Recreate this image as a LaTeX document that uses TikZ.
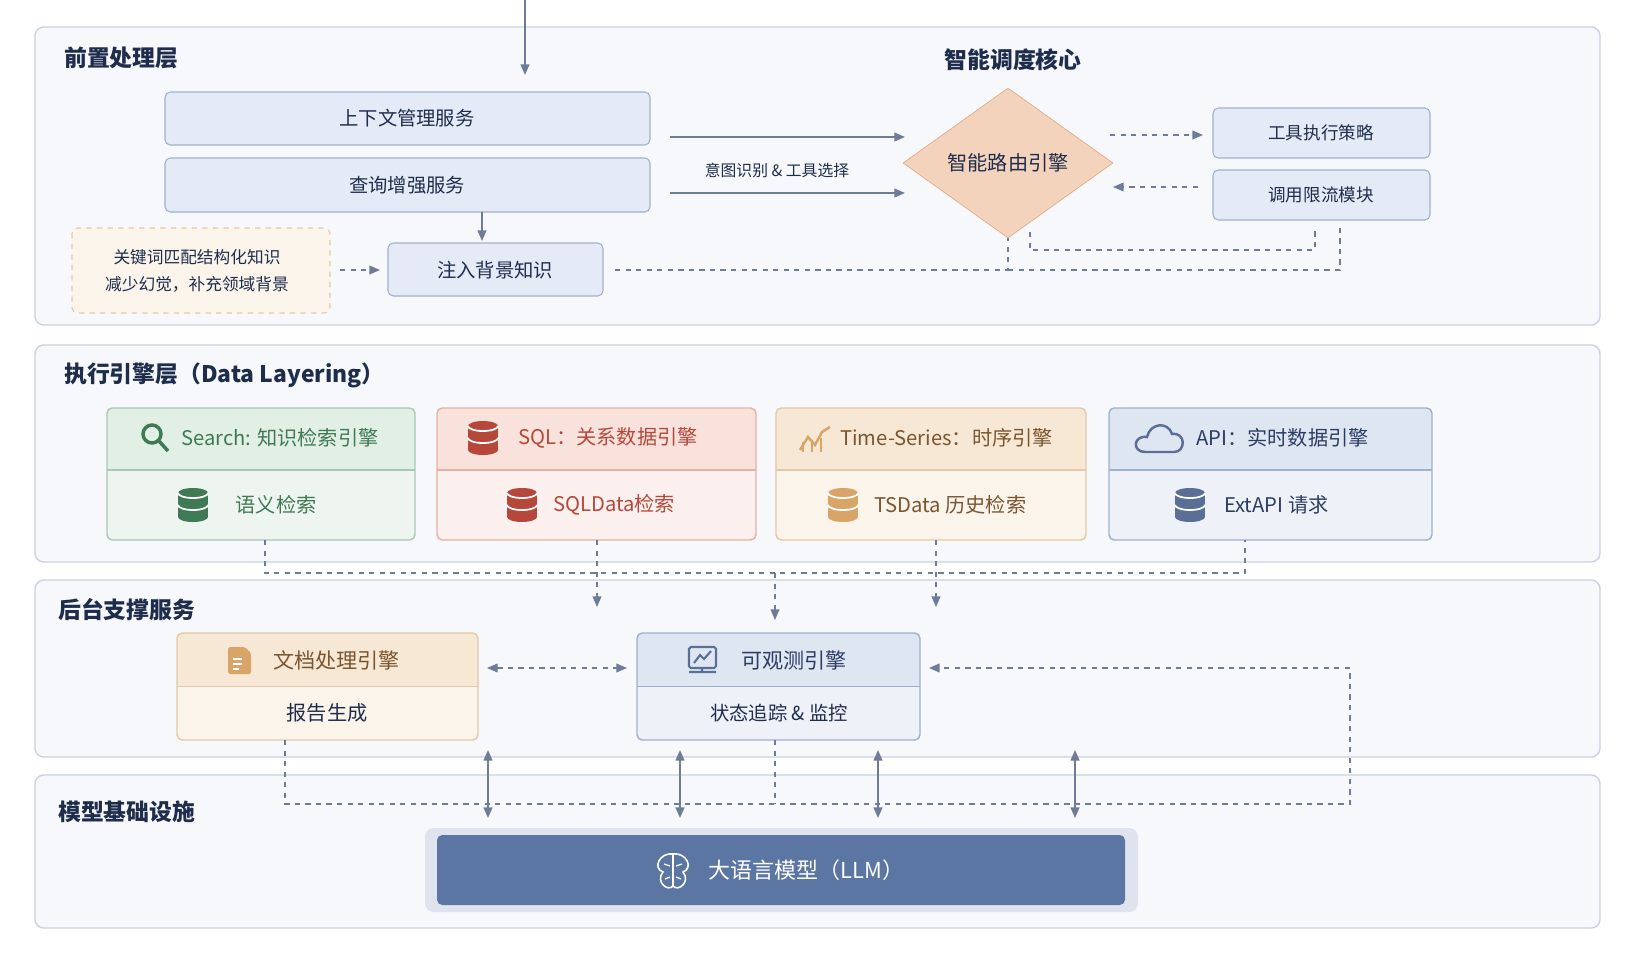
\documentclass[tikz,border=0pt]{standalone}
\usepackage{fontspec}
\setmainfont{Noto Sans CJK SC}
\usetikzlibrary{arrows.meta,positioning,shapes.geometric}
\definecolor{navy}{HTML}{1F2D4D}
\definecolor{line}{HTML}{6E7C97}
\definecolor{panel}{HTML}{F7F8FC}
\definecolor{pline}{HTML}{C9D1E2}
\definecolor{bfill}{HTML}{E4EBF6}
\definecolor{bline}{HTML}{9FB0CC}
\definecolor{gtxt}{HTML}{3F7A55}\definecolor{ghead}{HTML}{E2EFE5}\definecolor{gbody}{HTML}{EEF5F0}\definecolor{gline}{HTML}{A9C8B2}
\definecolor{rtxt}{HTML}{B5483A}\definecolor{rhead}{HTML}{F9E1DC}\definecolor{rbody}{HTML}{FBF0ED}\definecolor{rline}{HTML}{E5B0A5}
\definecolor{otxt}{HTML}{7A5530}\definecolor{ohead}{HTML}{F6E8D4}\definecolor{obody}{HTML}{FBF4EA}\definecolor{oline}{HTML}{E3C9A5}\definecolor{oicon}{HTML}{D8A468}
\definecolor{utxt}{HTML}{2C3D63}\definecolor{uhead}{HTML}{DEE6F2}\definecolor{ubody}{HTML}{EEF2F8}\definecolor{uicon}{HTML}{5A6F96}
\definecolor{llm}{HTML}{5B76A2}
\definecolor{dfill}{HTML}{F4D3BC}\definecolor{dline}{HTML}{E2AB88}
\tikzset{
  panel/.style={draw=pline, fill=panel, rounded corners=5pt, line width=0.8pt},
  ptitle/.style={anchor=west, text=navy, font=\bfseries\fontsize{13}{15}\selectfont},
  box/.style={draw=bline, fill=bfill, rounded corners=3pt, line width=0.6pt},
  btxt/.style={text=navy, font=\fontsize{11}{13}\selectfont},
  dline/.style={draw=line, dashed, line width=0.6pt},
  arr/.style={-{Triangle[length=6pt,width=5pt]}, draw=line, line width=0.7pt},
  darr/.style={{Triangle[length=6pt,width=5pt]}-{Triangle[length=6pt,width=5pt]}, draw=line, line width=0.9pt},
  db/.pic={\fill[pic actions] (-15,-12) rectangle (15,12);
    \fill[pic actions] (0,-12) ellipse (15 and 5);
    \fill[pic actions] (0,12) ellipse (15 and 5);
    \draw[white, line width=1pt] (-15,-12) arc (180:360:15 and -5);
    \draw[white, line width=1pt] (-15,0) arc (180:360:15 and -5);}
}
\begin{document}
\begin{tikzpicture}[x=0.02cm,y=-0.02cm]
\useasboundingbox (0,0) rectangle (1637,960);
\fill[white] (0,0) rectangle (1637,960);
% panels
\draw[panel] (35,27) rectangle (1600,325);
\draw[panel] (35,345) rectangle (1600,562);
\draw[panel] (35,580) rectangle (1600,757);
\draw[panel] (35,775) rectangle (1600,928);
\node[ptitle] (t1) at (58,58) {前置处理层};
\node[ptitle] (t2) at (58,375) {执行引擎层（Data Layering）};
\node[ptitle] (t3) at (52,610) {后台支撑服务};
\node[ptitle] (t4) at (52,812) {模型基础设施};
\node[text=navy, font=\bfseries\fontsize{13}{15}\selectfont] (core) at (1013,60) {智能调度核心};
% pre-processing
\coordinate (in) at (525,0);
\draw[box] (165,92) rectangle (650,145);
\node[btxt] (ctx) at (407,118) {上下文管理服务};
\draw[box] (165,158) rectangle (650,212);
\node[btxt] (qry) at (407,185) {查询增强服务};
\draw[arr] (in) -- (525,75);
\draw[dline, draw=oline, fill=obody, rounded corners=3pt] (72,228) rectangle (330,313);
\node[btxt, align=center, font=\fontsize{9.5}{15}\selectfont] (kw) at (197,271) {关键词匹配结构化知识\\减少幻觉，补充领域背景};
\draw[box] (388,243) rectangle (603,296);
\node[btxt] (inj) at (495,270) {注入背景知识};
\draw[arr] (482,212) -- (482,241);
\draw[arr, dashed] (340,270) -- (380,270);
\node[diamond, draw=dline, fill=dfill, minimum width=210*0.02cm, minimum height=150*0.02cm, inner sep=0pt, text=navy, font=\fontsize{11.5}{13}\selectfont] (route) at (1008,163) {智能路由引擎};
\draw[arr] (670,137) -- (905,137);
\draw[arr] (670,193) -- (905,193);
\node[text=navy, font=\fontsize{9}{11}\selectfont] (intent) at (777,170) {意图识别 \& 工具选择};
\draw[box] (1213,108) rectangle (1430,158);
\node[btxt, font=\fontsize{10}{12}\selectfont] (tool) at (1321,133) {工具执行策略};
\draw[box] (1213,170) rectangle (1430,220);
\node[btxt, font=\fontsize{10}{12}\selectfont] (lim) at (1321,195) {调用限流模块};
\draw[arr, dashed] (1110,135) -- (1203,135);
\draw[arr, dashed] (1198,187) -- (1113,187);
\draw[dline] (615,270) -- (1008,270) -- (1008,238);
\draw[dline] (1008,270) -- (1340,270) -- (1340,228);
\draw[dline] (1030,232) -- (1030,250) -- (1315,250) -- (1315,228);
% engine cards
\foreach \xa/\xb/\c in {107/415/g, 437/756/r, 776/1086/o, 1109/1432/u}{
  \fill[\c body, rounded corners=3pt] (\xa,408) rectangle (\xb,540);
  \fill[\c head, rounded corners=3pt] (\xa,408) rectangle (\xb,470);
  \fill[\c head] (\xa,455) rectangle (\xb,470);
}
\foreach \xa/\xb/\c in {107/415/gline, 437/756/rline, 776/1086/oline, 1109/1432/bline}{
  \draw[\c, line width=0.6pt] (\xa,470) -- (\xb,470);
  \draw[\c, rounded corners=3pt, line width=0.8pt] (\xa,408) rectangle (\xb,540);
}
\draw[gtxt, line width=2pt] (152,434) circle (9) (159,441) -- (168,451);
\node[text=gtxt, anchor=west, font=\fontsize{11.5}{13}\selectfont] (srch) at (175,438) {Search: 知识检索引擎};
\node[text=gtxt, font=\fontsize{11.5}{13}\selectfont] (sem) at (276,505) {语义检索};
\pic[fill=gtxt] at (193,505) {db};
\pic[fill=rtxt] at (483,438) {db};
\node[text=rtxt, anchor=west, font=\fontsize{11.5}{13}\selectfont] (sql) at (512,438) {SQL：关系数据引擎};
\pic[fill=rtxt] at (522,505) {db};
\node[text=rtxt, anchor=west, font=\fontsize{11.5}{13}\selectfont] (sqld) at (547,505) {SQLData检索};
\draw[oicon, line width=1.4pt] (800,450) -- (808,437) -- (815,445) -- (822,432) -- (830,427);
\draw[oicon, line width=1.4pt] (803,452) -- (803,442) (812,452) -- (812,440) (821,452) -- (821,438);
\node[text=otxt, anchor=west, font=\fontsize{11.5}{13}\selectfont] (ts) at (834,438) {Time-Series：时序引擎};
\pic[fill=oicon] at (843,505) {db};
\node[text=otxt, anchor=west, font=\fontsize{11.5}{13}\selectfont] (tsd) at (868,505) {TSData 历史检索};
\draw[uicon, line width=1.4pt] (1145,452) .. controls (1132,452) and (1133,435) .. (1147,437) .. controls (1150,423) and (1168,421) .. (1172,434) .. controls (1186,432) and (1186,452) .. (1174,452) -- cycle;
\node[text=utxt, anchor=west, font=\fontsize{11.5}{13}\selectfont] (api) at (1190,438) {API：实时数据引擎};
\pic[fill=uicon] at (1190,505) {db};
\node[text=utxt, anchor=west, font=\fontsize{11.5}{13}\selectfont] (ext) at (1218,505) {ExtAPI 请求};
\draw[dline] (265,540) -- (265,573) -- (1245,573) -- (1245,540);
\draw[arr, dashed] (597,540) -- (597,607);
\draw[arr, dashed] (775,573) -- (775,620);
\draw[arr, dashed] (936,540) -- (936,607);
% support services
\fill[obody, rounded corners=3pt] (177,633) rectangle (478,740);
\fill[ohead, rounded corners=3pt] (177,633) rectangle (478,686);
\fill[ohead] (177,675) rectangle (478,686);
\draw[oline] (177,686) -- (478,686);
\draw[oline, rounded corners=3pt, line width=0.8pt] (177,633) rectangle (478,740);
\fill[oicon, rounded corners=1pt] (228,647) -- (245,647) -- (251,653) -- (251,674) -- (228,674) -- cycle;
\draw[white, line width=0.8pt] (233,659) -- (242,659) (233,664) -- (242,664) (233,669) -- (239,669);
\node[text=otxt, anchor=west, font=\fontsize{12}{14}\selectfont] (doc) at (267,660) {文档处理引擎};
\node[text=navy, font=\fontsize{11.5}{13}\selectfont] (rep) at (327,713) {报告生成};
\fill[ubody, rounded corners=3pt] (637,633) rectangle (920,740);
\fill[uhead, rounded corners=3pt] (637,633) rectangle (920,686);
\fill[uhead] (637,675) rectangle (920,686);
\draw[bline] (637,686) -- (920,686);
\draw[bline, rounded corners=3pt, line width=0.8pt] (637,633) rectangle (920,740);
\draw[uicon, line width=1.2pt, rounded corners=1pt] (689,647) rectangle (716,668);
\draw[uicon, line width=1.2pt] (694,663) -- (700,655) -- (704,659) -- (711,651) (689,672) -- (716,672) (702,668) -- (702,672);
\node[text=utxt, anchor=west, font=\fontsize{12}{14}\selectfont] (obs) at (735,660) {可观测引擎};
\node[text=navy, font=\fontsize{11}{13}\selectfont] (mon) at (779,713) {状态追踪 \& 监控};
\draw[darr, dashed, line width=0.6pt] (487,668) -- (627,668);
\draw[dline] (285,740) -- (285,804) -- (1350,804) -- (1350,668);
\draw[arr, dashed] (1350,668) -- (929,668);
\draw[dline] (775,740) -- (775,804);
\foreach \x in {488,680,878,1075}
  \draw[darr] (\x,750) -- (\x,818);
% LLM
\fill[pline!60, rounded corners=5pt] (425,828) rectangle (1138,912);
\fill[llm, rounded corners=3pt] (437,835) rectangle (1125,905);
\node[text=white, font=\fontsize{12.5}{15}\selectfont] (llmt) at (780,870) {\hspace{30pt}大语言模型（LLM）};
\draw[white, line width=0.9pt] (673,854) .. controls (660,852) and (652,868) .. (663,872) .. controls (655,882) and (668,892) .. (673,886) -- (673,854);
\draw[white, line width=0.9pt] (673,854) .. controls (686,852) and (694,868) .. (683,872) .. controls (691,882) and (678,892) .. (673,886);
\draw[white, line width=0.7pt] (664,864) -- (670,866) (682,864) -- (676,866) (665,879) -- (670,877) (681,879) -- (676,877);
\end{tikzpicture}
\end{document}
